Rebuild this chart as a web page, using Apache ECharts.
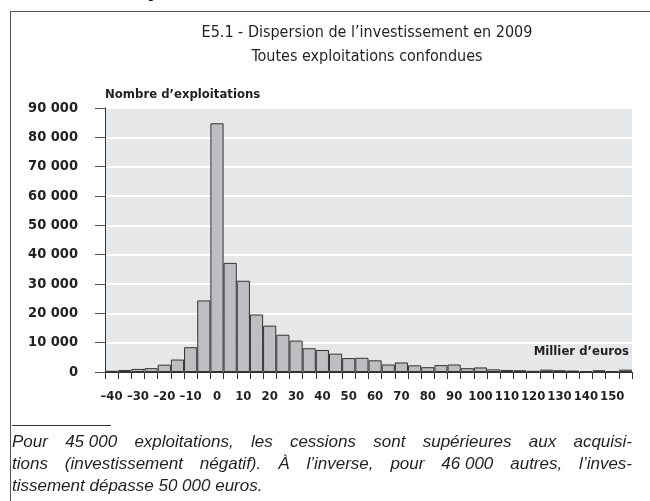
<!DOCTYPE html>
<html>
<head>
<meta charset="utf-8">
<script src="https://cdn.jsdelivr.net/npm/echarts@6/dist/echarts.min.js"></script>
<style>
html,body{margin:0;padding:0;background:#fff;}
#c{width:650px;height:501px;}
</style>
</head>
<body>
<div id="c"></div>
<script>
// Bins (thousand euros), lower bound of each 5k bin
var categories = ['-40','-35','-30','-25','-20','-15','-10','-5','0','5','10','15','20','25','30','35','40','45','50','55','60','65','70','75','80','85','90','95','100','105','110','115','120','125','130','135','140','145','150','155'];
// Number of farms per bin
var counts = [400,700,1050,1300,2500,4250,8450,24400,84800,37200,31100,19600,15800,12700,10700,8100,7500,6250,4750,4850,3980,2550,3250,2270,1650,2350,2550,1300,1550,900,700,600,400,800,600,500,300,600,300,800];
var yTicks = [0,10000,20000,30000,40000,50000,60000,70000,80000,90000];
var noteLines = [
  'Pour 45\u00a0000 exploitations, les cessions sont sup\u00e9rieures aux acquisi-',
  'tions (investissement n\u00e9gatif). \u00c0 l\u2019inverse, pour 46\u00a0000 autres, l\u2019inves-',
  'tissement d\u00e9passe 50\u00a0000 euros.'
];

var NARROW = "'DejaVu Sans Condensed','Liberation Sans Narrow',sans-serif";
var NOTE_FONT = "italic 17px 'Liberation Sans',sans-serif";
var chart = echarts.init(document.getElementById('c'), null, {renderer:'canvas'});
function fmtThousands(v){
  return String(v).replace(/\B(?=(\d{3})+(?!\d))/g, ' ');
}
// justified text lines (word by word)
var mctx = document.createElement('canvas').getContext('2d');
function noteLine(text, x0, x1, y, justify){
  mctx.font = NOTE_FONT;
  if(!justify){
    return [{type:'text',x:x0,y:y,style:{text:text,font:NOTE_FONT,fill:'#231f20',textAlign:'left',textVerticalAlign:'middle'}}];
  }
  var words = text.split(' ');
  var tot = 0, ws = [];
  words.forEach(function(w){var m = mctx.measureText(w).width; ws.push(m); tot += m;});
  var gap = (x1 - x0 - tot) / (words.length - 1);
  var out = [], x = x0;
  words.forEach(function(w,i){
    out.push({type:'text',x:x,y:y,style:{text:w,font:NOTE_FONT,fill:'#231f20',textAlign:'left',textVerticalAlign:'middle'}});
    x += ws[i] + gap;
  });
  return out;
}

var graphics = [
  {type:'line',shape:{x1:10,y1:11.5,x2:650,y2:11.5},style:{stroke:'#555',lineWidth:1}},
  {type:'line',shape:{x1:10.5,y1:11,x2:10.5,y2:501},style:{stroke:'#555',lineWidth:1}},
  {type:'text',left:147,top:-27,style:{text:'p',font:"bold 28px 'Liberation Sans',sans-serif",fill:'#231f20'}},
  {type:'text',x:367,y:33,style:{text:'E5.1 - Dispersion de l\u2019investissement en 2009',font:"16px "+NARROW,fill:'#231f20',textAlign:'center',textVerticalAlign:'middle'}},
  {type:'text',x:367,y:57,style:{text:'Toutes exploitations confondues',font:"16px "+NARROW,fill:'#231f20',textAlign:'center',textVerticalAlign:'middle'}},
  {type:'text',x:105,y:95,style:{text:'Nombre d\u2019exploitations',font:"bold 13px "+NARROW,fill:'#231f20',textAlign:'left',textVerticalAlign:'middle'}},
  {type:'text',x:629,y:352,style:{text:'Millier d\u2019euros',font:"bold 13px "+NARROW,fill:'#231f20',textAlign:'right',textVerticalAlign:'middle'}},
  {type:'line',shape:{x1:12,y1:425.5,x2:111,y2:425.5},style:{stroke:'#333',lineWidth:1}}
];
graphics = graphics.concat(noteLine(noteLines[0],12,632,442,true));
graphics = graphics.concat(noteLine(noteLines[1],12,632,464,true));
graphics = graphics.concat(noteLine(noteLines[2],12,632,486,false));

chart.setOption({
  animation:false,
  backgroundColor:'#ffffff',
  grid:{left:105,right:18,top:108,bottom:129,show:true,backgroundColor:'#e6e7e8',borderWidth:0,containLabel:false},
  xAxis:{
    type:'category',
    data:categories,
    boundaryGap:true,
    axisLine:{show:true,lineStyle:{color:'#333',width:1}},
    axisTick:{show:true,interval:0,length:7,lineStyle:{color:'#333',width:1}},
    axisLabel:{interval:0,hideOverlap:false,margin:18,color:'#231f20',fontFamily:NARROW,fontWeight:'bold',fontSize:13,
      formatter:function(v,i){return (i % 2) ? '' : v.replace('-','\u2013');}},
    splitLine:{show:false}
  },
  yAxis:{
    type:'value',
    min:yTicks[0],max:yTicks[yTicks.length-1],interval:10000,
    axisLine:{show:true,lineStyle:{color:'#333',width:1}},
    axisTick:{show:true,length:10,lineStyle:{color:'#555',width:1}},
    axisLabel:{margin:27,color:'#231f20',fontFamily:NARROW,fontWeight:'bold',fontSize:14.5,formatter:fmtThousands},
    splitLine:{show:true,lineStyle:{color:'#ffffff',width:2}}
  },
  series:[{
    type:'bar',
    data:counts,
    barCategoryGap:0,
    itemStyle:{color:'#bdbec1',borderColor:'#333333',borderWidth:1}
  }],
  graphic:graphics
});
</script>
</body>
</html>
